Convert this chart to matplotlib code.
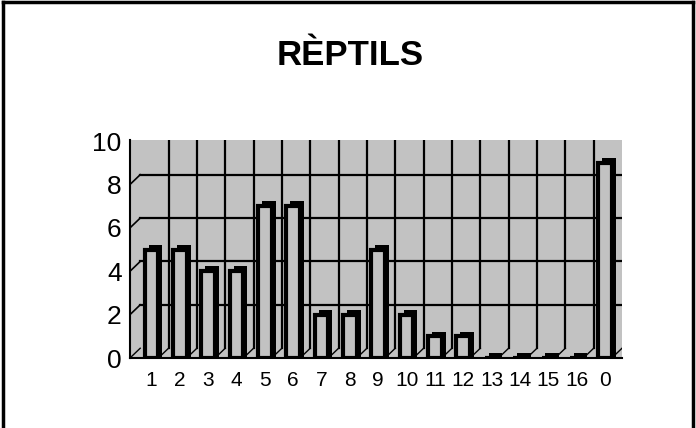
import matplotlib.pyplot as plt
from matplotlib.lines import Line2D

plt.rcParams['font.family'] = ['Liberation Sans', 'DejaVu Sans']

categories = ["1", "2", "3", "4", "5", "6", "7", "8", "9", "10",
              "11", "12", "13", "14", "15", "16", "0"]
values = [5, 5, 4, 4, 7, 7, 2, 2, 5, 2, 1, 1, 0, 0, 0, 0, 9]
y_ticks = [0, 2, 4, 6, 8, 10]

stipple = "#c2c2c2"

fig = plt.figure(figsize=(6.96, 4.28), dpi=100)
fig.patch.set_facecolor("white")

# outer frame (bottom edge falls outside the picture)
for xs, ys in [([0.004, 0.004], [0, 0.995]), ([0.004, 0.996], [0.995, 0.995]),
               ([0.996, 0.996], [0, 0.995])]:
    fig.add_artist(Line2D(xs, ys, color="black", lw=2.5, transform=fig.transFigure))

fig.text(0.503, 0.870, "RÈPTILS", ha="center", va="center",
         fontsize=25, fontweight="bold")

ax = fig.add_axes([130 / 696, (428 - 358) / 428, (622 - 130) / 696, (358 - 140) / 428])
ax.set_facecolor(stipple)
x = list(range(len(categories)))
ax.set_xlim(-0.76, 16.6)
ax.set_ylim(0, 10.05)

# back-wall grid, shifted for the 3D depth
depth_y = 0.45
for v in y_ticks[1:-1]:
    ax.plot([-0.4, 16.6], [v + depth_y, v + depth_y], color="black", lw=1.6, zorder=1)
    ax.plot([-0.76, -0.4], [v, v + depth_y], color="black", lw=1.2, zorder=1)
for i in range(1, 17):
    ax.plot([i - 0.4, i - 0.4], [depth_y, 10.05], color="black", lw=1.6, zorder=1)
for i in range(0, 18):
    ax.plot([i - 0.76, i - 0.4], [0, depth_y], color="black", lw=1.0, zorder=1)

# bars: dark side face, then stippled front face
w = 0.48
ax.bar([xi + 0.14 for xi in x], [v + 0.22 for v in values], width=w,
       color="black", zorder=2)
ax.bar(x, values, width=w, color=stipple, edgecolor="black", linewidth=3, zorder=3)

ax.set_xticks(x)
ax.set_xticklabels(categories, fontsize=15)
ax.set_yticks(y_ticks)
ax.set_yticklabels([str(t) for t in y_ticks], fontsize=19)
ax.tick_params(length=0)
ax.tick_params(axis="x", pad=9)
ax.tick_params(axis="y", pad=6)

for side in ["top", "right"]:
    ax.spines[side].set_visible(False)
ax.spines["left"].set_linewidth(1.5)
ax.spines["bottom"].set_linewidth(1.5)

fig.savefig("out.png", dpi=100)
